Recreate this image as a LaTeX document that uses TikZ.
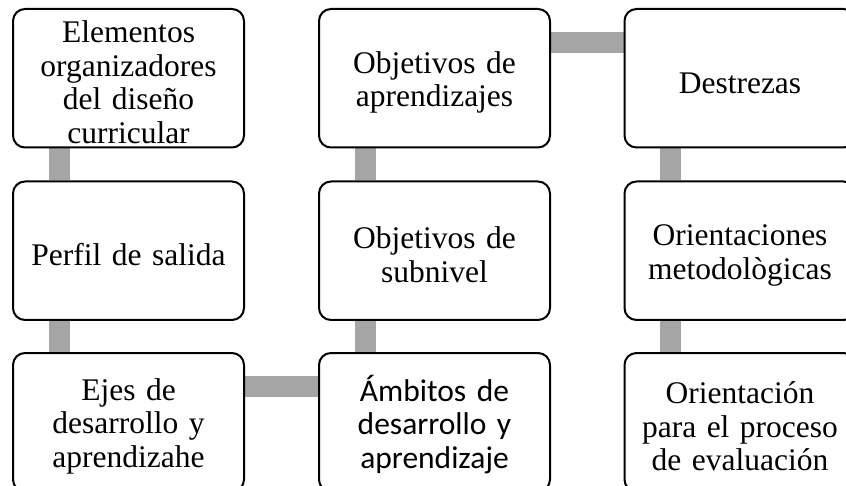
\documentclass[tikz,border=0pt]{standalone}
\usepackage{fontspec}
\setmainfont{Liberation Serif}
\newfontfamily\calibrifont{Carlito}
\usetikzlibrary{backgrounds}
\definecolor{bargray}{HTML}{A5A5A5}

\begin{document}
\begin{tikzpicture}[
        x=1pt, y=-1pt,
        box/.style={draw, fill=white, line width=2pt, rounded corners=12pt,
            minimum width=231pt, minimum height=138.5pt, inner sep=0pt,
            text width=215pt, align=center,
            execute at begin node={\rule{0pt}{30pt}},
            font=\fontsize{31.5pt}{33.5pt}\selectfont},
        bar/.style={draw=bargray, line width=21pt}
    ]
        \useasboundingbox (0,0) rectangle (846,486);

        % Spalte 1 (von oben nach unten)
        \node[box] (elem) at (128.5, 78.25) {Elementos\\organizadores\\del diseño\\curricular};
        \node[box] (perfil) at (128.5, 250.75) {Perfil de salida};
        \node[box] (ejes) at (128.5, 422.25) {Ejes de\\desarrollo y\\aprendizahe};

        % Spalte 2 (von unten nach oben)
        \node[box, font=\fontsize{31.5pt}{33.5pt}\calibrifont] (ambitos) at (434.5, 422.25) {Ámbitos de\\desarrollo y\\aprendizaje};
        \node[box] (objsub) at (434.5, 250.75) {Objetivos de\\subnivel};
        \node[box] (objapr) at (434.5, 78.25) {Objetivos de\\aprendizajes};

        % Spalte 3 (von oben nach unten)
        \node[box] (destr) at (740, 78.25) {Destrezas};
        \node[box] (orimet) at (740, 250.75) {Orientaciones\\metodològicas};
        \node[box] (orieval) at (740, 422.25) {Orientación\\para el proceso\\de evaluación};

        % Verbindungen (hinter den Boxen)
        \begin{scope}[on background layer]
            \draw[bar] ([xshift=47pt]elem.south west) -- ([xshift=47pt]perfil.north west);
            \draw[bar] ([xshift=47pt]perfil.south west) -- ([xshift=47pt]ejes.north west);
            \draw[bar] ([yshift=-34.5pt]ejes.north east) -- ([yshift=-34.5pt]ambitos.north west);
            \draw[bar] ([xshift=47pt]ambitos.north west) -- ([xshift=47pt]objsub.south west);
            \draw[bar] ([xshift=47pt]objsub.north west) -- ([xshift=47pt]objapr.south west);
            \draw[bar] ([yshift=-34.5pt]objapr.north east) -- ([yshift=-34.5pt]destr.north west);
            \draw[bar] ([xshift=47pt]destr.south west) -- ([xshift=47pt]orimet.north west);
            \draw[bar] ([xshift=47pt]orimet.south west) -- ([xshift=47pt]orieval.north west);
        \end{scope}

    \end{tikzpicture}
\end{document}
